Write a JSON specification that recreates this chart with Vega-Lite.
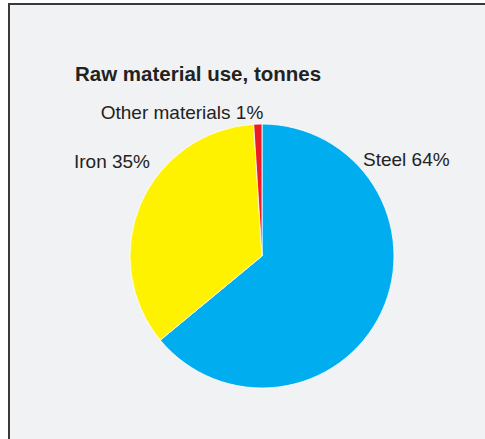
{
  "$schema": "https://vega.github.io/schema/vega-lite/v6.json",
  "autosize": "none",
  "width": 506,
  "height": 504,
  "padding": {"left": 9, "top": 4, "right": 0, "bottom": 0},
  "background": "#ffffff",
  "view": {"fill": "#f1f2f4", "stroke": "#3a3a3a", "strokeWidth": 2},
  "config": {
    "font": "Liberation Sans"
  },
  "title": {
    "text": "Raw material use, tonnes",
    "anchor": "start",
    "frame": "group",
    "orient": "top",
    "baseline": "alphabetic",
    "offset": -97,
    "dx": 66,
    "font": "Liberation Sans",
    "fontSize": 20.5,
    "fontWeight": "bold",
    "color": "#222222"
  },
  "data": {
    "values": [
      {"material": "Steel", "share": 64, "label": "Steel 64%"},
      {"material": "Iron", "share": 35, "label": "Iron 35%"},
      {"material": "Other materials", "share": 1, "label": "Other materials 1%"}
    ]
  },
  "encoding": {
    "theta": {"field": "share", "type": "quantitative", "stack": true},
    "order": {"field": "share", "type": "quantitative", "sort": "descending"}
  },
  "layer": [
    {
      "mark": {"type": "arc", "outerRadius": 132, "stroke": "#ffffff", "strokeWidth": 0.8},
      "encoding": {
        "color": {
          "field": "material",
          "type": "nominal",
          "scale": {"domain": ["Steel", "Iron", "Other materials"], "range": ["#00aeef", "#fff200", "#ed1c24"]},
          "legend": null
        }
      }
    },
    {
      "mark": {
        "type": "text",
        "radius": 0,
        "fontSize": 19,
        "font": "Liberation Sans",
        "color": "#222222",
        "baseline": "alphabetic",
        "align": {"expr": "datum.material === 'Steel' ? 'left' : datum.material === 'Iron' ? 'right' : 'center'"},
        "dx": {"expr": "datum.material === 'Steel' ? 101 : datum.material === 'Iron' ? -112 : -80"},
        "dy": {"expr": "datum.material === 'Steel' ? -90 : datum.material === 'Iron' ? -88 : -137"}
      },
      "encoding": {
        "text": {"field": "label", "type": "nominal"}
      }
    }
  ]
}
